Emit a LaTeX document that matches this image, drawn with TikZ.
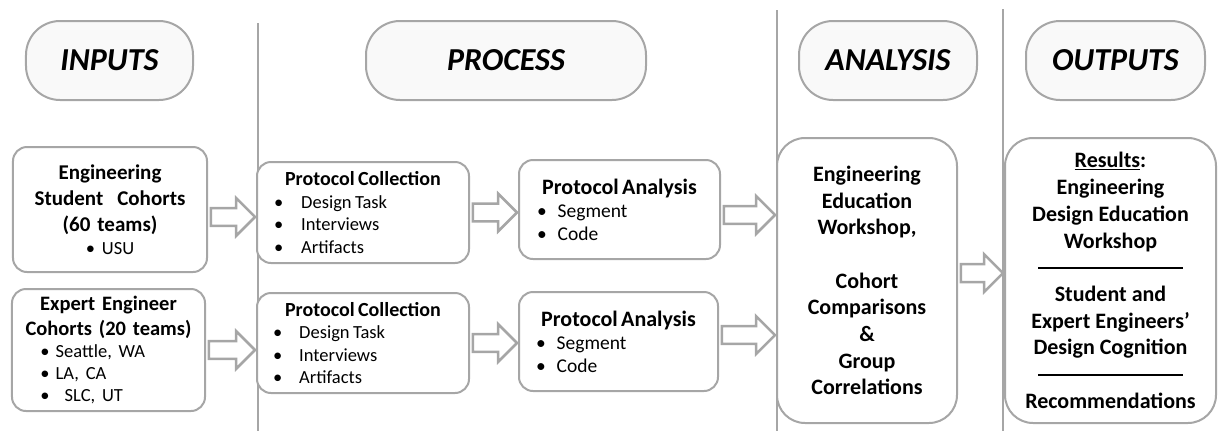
\documentclass[tikz,border=0pt]{standalone}
\usepackage{fontspec}
\setmainfont{Carlito}
\usetikzlibrary{calc}
\setlength\parindent{0pt}
\frenchspacing

\definecolor{linegray}{RGB}{166,166,166}
\definecolor{pillfill}{RGB}{249,249,249}

% one bullet line: indent, gap after bullet, text
\newcommand\bline[3]{\hspace*{#1}\textbullet\hspace{#2}#3\par}

% hollow block arrow from one box to the next, #3 = vertical shift (px, downwards)
\newcommand\fatarrow[3]{%
  \draw[fatarr] let \p1=(#1), \p2=(#2), \n1={\y1-(#3)} in
    (\x1+3pt,\n1+9pt) -- (\x2-20pt,\n1+9pt) -- (\x2-20pt,\n1+19pt) -- (\x2-1pt,\n1)
    -- (\x2-20pt,\n1-19pt) -- (\x2-20pt,\n1-9pt) -- (\x1+3pt,\n1-9pt) -- cycle;}

\begin{document}
\begin{tikzpicture}[x=1bp,y=-1bp,
    pill/.style={draw=linegray, line width=2bp, fill=pillfill, rounded corners=34bp,
      minimum height=79bp, inner sep=0pt, font=\fontsize{32bp}{36bp}\selectfont\bfseries\itshape},
    box/.style={draw=linegray, line width=2bp, fill=white, rounded corners=14bp, inner sep=0pt},
    tallbox/.style={box, rounded corners=28bp, minimum width=#1, minimum height=285bp, align=center,
      font=\fontsize{22bp}{26.7bp}\selectfont\bfseries},
    sepline/.style={draw=linegray, line width=1.3bp},
    fatarr/.style={draw=linegray, line width=2.5bp, fill=white}]

      \useasboundingbox (0,0) rectangle (1219,431);

      % column separators
      \draw[sepline] (258,23) -- (258,431);
      \draw[sepline] (777,10) -- (777,431);
      \draw[sepline] (1003,9) -- (1003,431);

      % headers
      \node[pill, minimum width=167bp] (inputs) at (109.5,60.5) {INPUTS};
      \node[pill, minimum width=280bp] (process) at (506,60.5) {PROCESS};
      \node[pill, minimum width=178bp] (analysis) at (888,60.5) {ANALYSIS};
      \node[pill, minimum width=179bp] (outputs) at (1115.5,60.5) {OUTPUTS};

      % inputs
      \node[box, minimum width=194bp, minimum height=125bp, text width=180bp, align=center,
        font=\fontsize{21bp}{26bp}\selectfont\bfseries] (stud) at (110,209.5)
        {Engineering\\Student\ \ Cohorts\\(60 teams)\\[-3.5bp]{\mdseries\fontsize{18.5bp}{22bp}\selectfont\textbullet\ USU}};
      \node[box, minimum width=193bp, minimum height=122bp, text width=180bp,
        font=\fontsize{20.5bp}{25bp}\selectfont] (expert) at (108.5,350)
        {{\centering\bfseries Expert Engineer\par Cohorts (20 teams)\par}
         \fontsize{18.5bp}{22bp}\selectfont
         \bline{22bp}{6bp}{Seattle, WA}
         \bline{22bp}{6bp}{LA, CA}
         \bline{22bp}{15bp}{SLC, UT}};

      % process: collection
      \node[box, minimum width=212bp, minimum height=101bp, text width=200bp] (coll1) at (363,212.5)
        {{\centering\bfseries\fontsize{20bp}{23bp}\selectfont Protocol Collection\par}
         \fontsize{18.5bp}{22.5bp}\selectfont
         \bline{11bp}{18bp}{Design Task}
         \bline{11bp}{18bp}{Interviews}
         \bline{11bp}{18bp}{Artifacts}};
      \node[box, minimum width=212bp, minimum height=100bp, text width=200bp] (coll2) at (363,343)
        {{\centering\bfseries\fontsize{20bp}{23bp}\selectfont Protocol Collection\par}
         \fontsize{18.5bp}{22.5bp}\selectfont
         \bline{10bp}{17bp}{Design Task}
         \bline{10bp}{17bp}{Interviews}
         \bline{10bp}{17bp}{Artifacts}};

      % process: analysis
      \node[box, minimum width=201bp, minimum height=99bp, text width=185bp] (anl1) at (619.5,209.5)
        {{\centering\bfseries\fontsize{22bp}{24bp}\selectfont Protocol Analysis\par}
         \fontsize{19.5bp}{23bp}\selectfont
         \bline{10bp}{11bp}{Segment}
         \bline{10bp}{11bp}{Code}};
      \node[box, minimum width=199bp, minimum height=99bp, text width=185bp] (anl2) at (618.5,341.5)
        {{\centering\bfseries\fontsize{22bp}{24bp}\selectfont Protocol Analysis\par}
         \fontsize{19.5bp}{23bp}\selectfont
         \bline{10bp}{11bp}{Segment}
         \bline{10bp}{11bp}{Code}};

      % analysis and outputs
      \node[tallbox=180bp] (anal) at (867,280.5)
        {Engineering\\Education\\Workshop,\\[26.7bp]Cohort\\Comparisons\\\&\\Group\\Correlations};
      \node[tallbox=211bp] (outp) at (1110.5,280.5)
        {\underline{Results}:\\Engineering\\Design Education\\Workshop\\
         \rule[5.5bp]{145bp}{2bp}\\Student and\\Expert Engineers’\\Design Cognition\\
         \rule[5.5bp]{145bp}{2bp}\\Recommendations};

      % arrows
      \fatarrow{stud.east}{coll1.west}{7.5}
      \fatarrow{expert.east}{coll2.west}{0}
      \fatarrow{coll1.east}{anl1.west}{0}
      \fatarrow{coll2.east}{anl2.west}{0}
      \fatarrow{anl1.east}{anal.west}{5.5}
      \fatarrow{anl2.east}{anal.west}{-6.5}
      \fatarrow{anal.east}{outp.west}{-7.5}
    \end{tikzpicture}
\end{document}
